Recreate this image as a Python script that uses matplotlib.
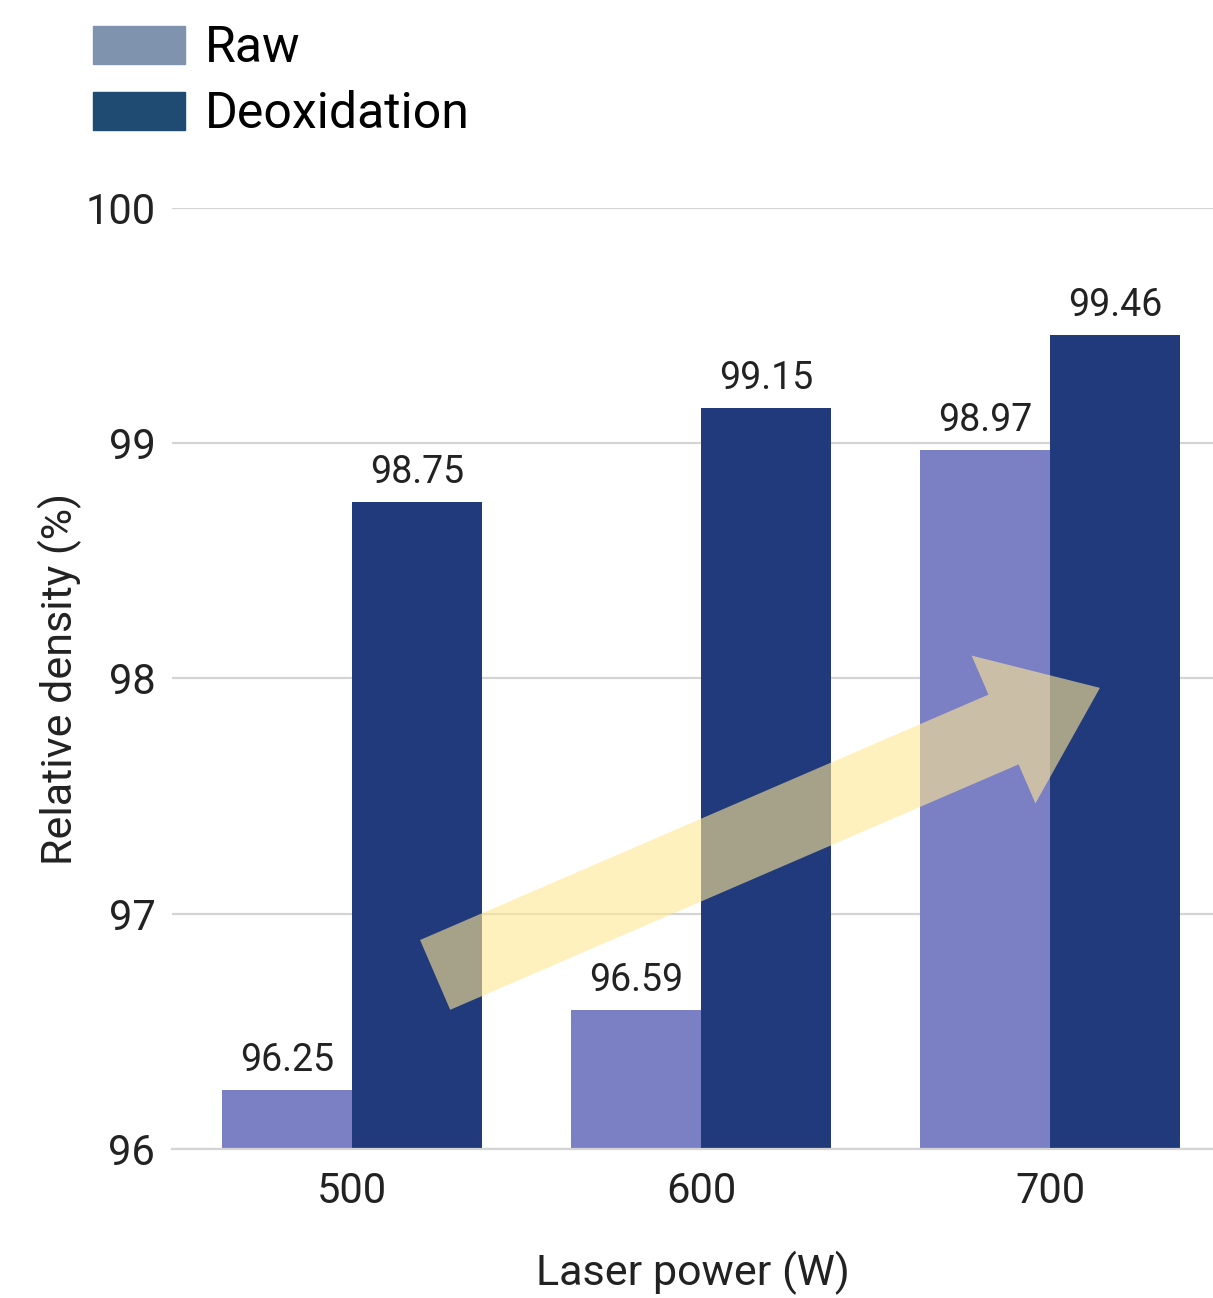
import matplotlib
matplotlib.use("Agg")
import matplotlib.pyplot as plt
from matplotlib.patches import Patch
import numpy as np

# data
powers = ["500", "600", "700"]
raw = [96.25, 96.59, 98.97]
deox = [98.75, 99.15, 99.46]
yticks = [96, 97, 98, 99, 100]

plt.rcParams["font.family"] = ["Roboto", "DejaVu Sans"]

fig = plt.figure(figsize=(12.13, 12.98), dpi=100)
ax = fig.add_axes([0.1418, 0.1148, 0.8582, 0.725])

x = np.arange(len(powers))
w = 0.3725
b1 = ax.bar(x - w / 2, np.array(raw) - 96, w, bottom=96, color="#7b7fc4")
b2 = ax.bar(x + w / 2, np.array(deox) - 96, w, bottom=96, color="#213a7c")

for bars, vals in ((b1, raw), (b2, deox)):
    for r, v in zip(bars, vals):
        ax.annotate(f"{v:.2f}", (r.get_x() + r.get_width() / 2, v),
                    xytext=(0, 8), textcoords="offset points",
                    ha="center", va="bottom", fontsize=27, color="#222222")

# trend arrow
ax.annotate("", xy=(2.143, 97.96), xytext=(0.238, 96.74),
            arrowprops=dict(arrowstyle="simple,head_length=1.05,head_width=1.61,tail_width=0.76",
                            mutation_scale=72, shrinkA=0, shrinkB=0,
                            fc="#ffe993", ec="none", alpha=0.6))

ax.set_xlim(-0.516, 2.467)
ax.set_ylim(96, 100)
ax.set_yticks(yticks)
ax.set_yticklabels([str(t) for t in yticks])
ax.set_xticks(x)
ax.set_xticklabels(powers)
ax.tick_params(axis="both", length=0, labelsize=30, colors="#222222")
ax.tick_params(axis="y", pad=12)
ax.tick_params(axis="x", pad=16)
ax.yaxis.grid(True, color="#d4d4d4", linewidth=1.6)
ax.set_axisbelow(True)
for s in ["top", "right", "left"]:
    ax.spines[s].set_visible(False)
ax.spines["bottom"].set_color("#d4d4d4")
ax.spines["bottom"].set_linewidth(1.6)

ax.set_xlabel("Laser power (W)", fontsize=31, color="#222222", labelpad=28)
ax.set_ylabel("Relative density (%)", fontsize=31, color="#222222", labelpad=2)

handles = [Patch(color="#7f93ae", label="Raw"), Patch(color="#1f4a72", label="Deoxidation")]
fig.legend(handles=handles, loc="upper left", bbox_to_anchor=(93 / 1213, 1 - 24 / 1298),
           frameon=False, fontsize=36, handlelength=1.84, handleheight=0.8,
           handletextpad=0.4, labelspacing=0.36, borderaxespad=0, borderpad=0)

fig.savefig("out.png", dpi=100)
